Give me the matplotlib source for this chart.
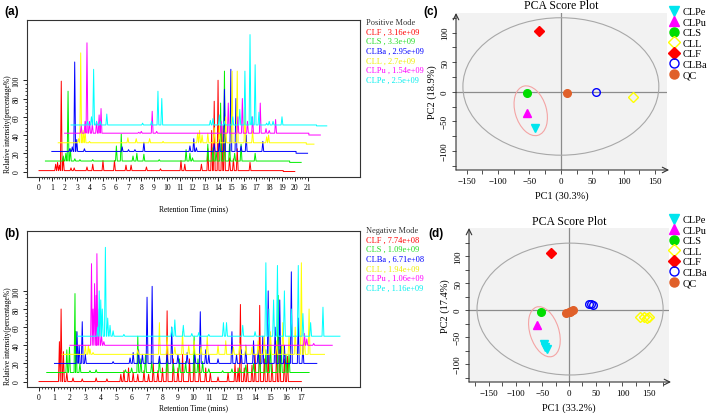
import numpy as np
import matplotlib
matplotlib.use('Agg')
import matplotlib.pyplot as plt
from matplotlib.patches import Ellipse
from matplotlib.ticker import FixedLocator
from matplotlib.lines import Line2D

SERIF = 'Liberation Serif'

# ---------------- chromatogram data (displayed retention time, relative intensity) ----------------
trace_colors = ['#FF0000', '#00EE00', '#0000FF', '#FFFF00', '#FF00FF', '#00FFFF']
text_colors = ['#FF0000', '#22DD22', '#0000FF', '#EEEE00', '#FF00FF', '#00EEEE']

# positive mode (a)
a_start = [0, 0.5, 1.0, 1.5, 2.0, 2.5]
a_end = [20.0, 20.5, 21.0, 21.5, 22.0, 22.5]
a_base_hi = [1, 11.5, 22, 31.5, 42, 51]
a_base_lo = [0, 10, 20, 30, 40, 50]
a_step = [19.1, 19.6, 20.1, 20.9, 21.1, 21.7]

a_clf_rt = [1.3, 1.45, 1.6, 1.74, 1.9, 2.5, 2.75, 3.75, 4.2, 5.0, 5.9, 6.8, 7.2, 8.4, 9.5, 11.1, 11.4,
            12.7, 13.2, 13.5, 13.7, 14.0, 14.3, 14.5, 14.9, 15.2, 15.5, 16.5]
a_clf_int = [8, 10, 7, 99, 15, 4, 4, 5, 8, 12, 12, 7, 7, 5, 3, 12, 8,
             8, 25, 45, 77, 100, 50, 55, 15, 14, 25, 10]
a_cls_rt = [1.9, 2.1, 2.27, 2.45, 2.8, 3.2, 4.2, 6.05, 6.43, 7.35, 7.65, 8.2, 9.4, 11.5, 11.8, 12.0,
            13.2, 13.6, 13.85, 14.2, 14.5, 14.9, 15.3, 15.8, 16.9]
a_cls_int = [17, 20, 88, 25, 14, 13, 13, 28, 41, 17, 20, 19, 13, 24, 20, 15,
             30, 26, 22, 75, 110, 30, 20, 30, 20]
a_clba_rt = [2.4, 2.6, 2.79, 2.95, 3.55, 6.5, 7.0, 7.5, 8.2, 11.8, 12.1, 12.3, 13.7, 14.1, 14.5,
             15.0, 15.4, 15.8, 16.2, 17.5]
a_clba_int = [25, 27, 120, 35, 25, 27, 24, 24, 32, 28, 36, 26, 30, 35, 90,
              112, 80, 28, 40, 33]
a_cll_rt = [3.1, 3.26, 3.45, 3.6, 3.95, 6.95, 7.6, 8.65, 9.7, 12.4, 12.55, 12.75, 13.2, 13.7, 14.1,
            14.6, 15.1, 15.5, 16.1, 16.7, 17.8, 17.95]
a_cll_int = [36, 130, 45, 45, 33, 37, 36, 36, 33, 42, 45, 40, 42, 48, 50,
             60, 110, 110, 70, 45, 38, 40]
a_clpu_rt = [3.3, 3.6, 3.75, 3.95, 4.17, 4.5, 4.7, 4.85, 7.8, 8.0, 8.85, 9.2, 14.25, 14.8, 15.55,
             15.9, 16.3, 16.7, 17.3, 17.75, 18.0, 18.5]
a_clpu_int = [50, 55, 141, 55, 52, 55, 62, 69, 43, 44, 66, 44, 55, 75, 60,
              80, 55, 60, 75, 47, 45, 57]
a_clpe_rt = [3.8, 4.1, 4.27, 4.5, 4.8, 5.3, 8.1, 8.8, 9.3, 9.6, 13.4, 13.6, 14.1, 14.5, 15.15,
             15.7, 16.1, 16.5, 16.65, 16.9, 17.2, 17.8, 18.0, 18.3, 19.0]
a_clpe_int = [55, 60, 112, 55, 55, 63, 53, 55, 88, 80, 56, 58, 62, 55, 60,
              68, 110, 150, 60, 117, 65, 53, 55, 55, 60]

# negative mode (b)
b_start = [0, 0.5, 1.0, 1.5, 2.0, 2.5]
b_end = [17.0, 17.5, 18.0, 18.5, 19.0, 19.5]
b_base = [0, 10, 20, 30, 40, 50]

b_clf_rt = [1.32, 1.43, 1.58, 1.8, 2.2, 2.8, 3.7, 4.4, 5.3, 5.5, 5.8, 6.1, 6.4, 6.8, 7.1, 7.4, 7.7,
            8.0, 8.3, 8.7, 9.0, 9.3, 9.75, 10.05, 10.4, 10.8, 11.1, 11.6, 12.25, 12.7, 12.9, 13.05,
            13.3, 13.5, 13.8, 14.0, 14.3, 14.6, 14.85, 15.1, 15.4, 15.6, 15.9, 16.1]
b_clf_int = [44, 80, 33, 10, 4, 3, 4, 3, 8, 12, 15, 10, 8, 12, 8, 20, 12,
             15, 78, 25, 15, 30, 25, 30, 20, 15, 10, 5, 10, 20, 15, 85,
             15, 20, 18, 30, 84, 25, 30, 20, 40, 35, 25, 28]
b_cls_rt = [1.8, 1.97, 2.33, 2.4, 2.65, 3.3, 3.7, 5.6, 6.0, 6.4, 6.6, 6.9, 7.3, 7.8, 8.3, 8.7, 9.1,
            9.5, 10.05, 10.3, 10.6, 11.0, 11.9, 12.5, 13.0, 13.4, 13.9, 14.3, 14.7, 15.0, 15.5,
            15.7, 16.0, 16.2]
b_cls_int = [35, 38, 97, 55, 20, 12, 13, 13, 15, 50, 25, 30, 22, 25, 28, 20, 25,
             22, 50, 25, 22, 14, 12, 14, 15, 18, 20, 30, 35, 45, 95,
             40, 30, 30]
b_clba_rt = [2.46, 2.6, 2.8, 3.0, 4.8, 5.9, 6.1, 6.45, 6.7, 7.0, 7.33, 7.8, 8.3, 8.6, 9.0, 9.6,
             10.1, 10.45, 10.8, 11.0, 11.6, 12.5, 12.8, 13.1, 13.4, 13.9, 14.2, 14.5, 14.85, 15.3,
             15.6, 15.9, 16.35, 16.8, 17.1]
b_clba_int = [55, 40, 66, 30, 22, 26, 32, 35, 30, 93, 105, 28, 30, 60, 30, 32,
              30, 77, 35, 30, 25, 55, 30, 35, 40, 45, 35, 50, 100, 60,
              90, 40, 121, 70, 40]
b_cll_rt = [3.0, 3.2, 3.3, 3.5, 6.4, 7.8, 8.3, 8.8, 9.3, 9.7, 10.05, 10.5, 10.9, 11.6, 12.1, 12.6,
            13.0, 13.4, 13.8, 14.2, 14.6, 15.0, 15.4, 15.8, 16.2, 16.6, 17.0, 17.2, 17.5]
b_cll_int = [40, 40, 36, 32, 35, 65, 50, 38, 55, 40, 45, 38, 50, 40, 45, 38,
             42, 40, 38, 45, 50, 55, 45, 65, 50, 60, 131, 50, 80]
b_clpu_rt = [3.4, 3.5, 3.6, 3.7, 3.75, 3.9, 4.05, 4.2, 17.2, 17.35, 17.8]
b_clpu_int = [130, 80, 108, 95, 141, 80, 50, 44, 53, 47, 42]
b_clpe_rt = [3.8, 3.9, 4.0, 4.1, 4.3, 4.45, 4.6, 4.8, 5.5, 8.6, 8.8, 9.35, 9.9, 10.35, 11.0, 11.95,
             12.15, 13.2, 14.0, 14.7, 14.9, 15.2, 15.45, 15.9, 16.35, 16.8, 17.1, 17.6, 18.4]
b_clpe_int = [60, 100, 90, 80, 148, 70, 62, 56, 52, 60, 68, 62, 53, 54, 52, 65,
              65, 62, 55, 131, 80, 90, 128, 100, 80, 128, 75, 65, 82]

pos_labels = ['CLF , 3.16e+09', 'CLS , 3.3e+09', 'CLBa , 2.95e+09',
              'CLL , 2.7e+09', 'CLPu , 1.54e+09', 'CLPe , 2.5e+09']
neg_labels = ['CLF , 7.74e+08', 'CLS , 1.09e+09', 'CLBa , 6.71e+08',
              'CLL , 1.94e+09', 'CLPu , 1.06e+09', 'CLPe , 1.16e+09']

# ---------------- PCA scores ----------------
groups = ['CLPe', 'CLPu', 'CLS', 'CLL', 'CLF', 'CLBa', 'QC']
grp_colors = ['#00E5EE', '#FF00FF', '#00DD00', '#FFFF00', '#FF0000', '#0000FF', '#E0602A']
grp_markers = ['v', '^', 'o', 'D', 'D', 'o', 'o']
grp_open = [False, False, False, True, False, True, False]

c_x = [[-41], [-54], [-54], [115], [-35], [56], [10]]
c_y = [[-61], [-36], [-2], [-9], [103], [0], [-2]]
d_x = [[-47, -44, -42], [-60], [-52], [132, 140, 146, 150], [-33], [38, 42, 44], [-5, 0, 4, 8, 2]]
d_y = [[-62, -68, -72], [-28], [-4], [-13, -12, -14, -12], [106], [11, 12, 9], [-6, -4, -2, 0, -3]]

fig = plt.figure(figsize=(7.09, 4.14), dpi=100)


def px_axes(l, t, r, b):
    return fig.add_axes([l / 709, 1 - b / 414, (r - l) / 709, (b - t) / 414])


def peak_line(start, end, base_hi, base_lo, step, rt, inten, w=0.07):
    order = np.argsort(rt)
    rt = np.asarray(rt, float)[order]
    inten = np.asarray(inten, float)[order]
    xs, ys = [start], [base_hi]
    n = len(rt)
    for i in range(n):
        t = rt[i]
        left = t - w if i == 0 else max(t - w, (rt[i - 1] + t) / 2)
        right = t + w if i == n - 1 else min(t + w, (t + rt[i + 1]) / 2)
        xs += [left, t, right]
        ys += [base_hi, inten[i], base_hi]
    if step is not None:
        xs += [step, step]
        ys += [base_hi, base_lo]
    xs.append(end)
    ys.append(base_lo)
    return xs, ys


def chrom_axes(ax, xlim, xmax_tick, xlabel_y, label_y):
    ax.set_xlim(*xlim)
    ax.set_ylim(-6, 166)
    ax.xaxis.set_major_locator(FixedLocator(range(0, xmax_tick + 1)))
    ax.xaxis.set_minor_locator(FixedLocator(np.arange(0, xmax_tick + 0.01, 0.2)))
    ax.yaxis.set_major_locator(FixedLocator(range(0, 101, 20)))
    ax.yaxis.set_minor_locator(FixedLocator(range(0, 101, 4)))
    ax.tick_params(which='major', length=3, width=0.6, direction='out', labelsize=5.5, pad=1.5)
    ax.tick_params(which='minor', length=1.5, width=0.5, direction='out')
    ax.tick_params(axis='y', labelrotation=90)
    for lab in ax.get_yticklabels():
        lab.set_va('center')
        lab.set_family(SERIF)
    for lab in ax.get_xticklabels():
        lab.set_family(SERIF)
    for s in ax.spines.values():
        s.set_linewidth(0.8)
        s.set_color('#333333')
    ax.set_ylabel('Relative intensity(percentage%)', family=SERIF, fontsize=5.5)
    ax.yaxis.set_label_coords(-0.045, label_y)
    fig.text(ax.get_position().x0 + ax.get_position().width / 2, 1 - xlabel_y / 414,
             'Retention Time (mins)', family=SERIF, fontsize=5.5, ha='center', va='center')


# ---- (a) positive mode ----
ax_a = px_axes(27, 21, 360, 178)
a_rt = [a_clf_rt, a_cls_rt, a_clba_rt, a_cll_rt, a_clpu_rt, a_clpe_rt]
a_int = [a_clf_int, a_cls_int, a_clba_int, a_cll_int, a_clpu_int, a_clpe_int]
for i in range(6):
    xs, ys = peak_line(a_start[i], a_end[i], a_base_hi[i], a_base_lo[i], a_step[i], a_rt[i], a_int[i])
    ax_a.plot(xs, ys, color=trace_colors[i], lw=0.7)
chrom_axes(ax_a, (-0.94, 25.1), 21, 209, 0.34)

# ---- (b) negative mode ----
ax_b = px_axes(27, 232, 360, 388)
b_rt = [b_clf_rt, b_cls_rt, b_clba_rt, b_cll_rt, b_clpu_rt, b_clpe_rt]
b_int = [b_clf_int, b_cls_int, b_clba_int, b_cll_int, b_clpu_int, b_clpe_int]
for i in range(6):
    xs, ys = peak_line(b_start[i], b_end[i], b_base[i], b_base[i], None, b_rt[i], b_int[i], w=0.06)
    ax_b.plot(xs, ys, color=trace_colors[i], lw=0.7)
chrom_axes(ax_b, (-0.78, 20.8), 17, 408, 0.33)

# mode legends
for title, labels, y0 in [('Positive Mode', pos_labels, 23), ('Negative Mode', neg_labels, 231)]:
    fig.text(366 / 709, 1 - y0 / 414, title, family=SERIF, fontsize=6, color='#333333', va='center')
    for i, lab in enumerate(labels):
        fig.text(366 / 709, 1 - (y0 + 9.6 * (i + 1)) / 414, lab, family=SERIF, fontsize=6,
                 color=text_colors[i], va='center')


# ---- PCA panels ----
def pca_axes(ax, xs, ys, xlim, ylim, big_ell, pink_ell, pc1, pc2, legend_top, title_y):
    ax.set_facecolor('#F2F2F2')
    ax.set_xlim(*xlim)
    ax.set_ylim(*ylim)
    for s in ax.spines.values():
        s.set_visible(False)
    ax.axhline(0, color='#8C8C8C', lw=0.9, zorder=1)
    ax.axvline(0, color='#8C8C8C', lw=0.9, zorder=1)
    cx, cy, w, h = big_ell
    ax.add_patch(Ellipse((cx, cy), w, h, fill=False, ec='#A8A8A8', lw=0.8, zorder=1))
    cx, cy, w, h, ang = pink_ell
    ax.add_patch(Ellipse((cx, cy), w, h, angle=ang, fill=False, ec='#F4A4A4', lw=0.8, zorder=1))
    for g in range(len(groups)):
        fc = 'none' if grp_open[g] else grp_colors[g]
        ax.plot(xs[g], ys[g], ls='', marker=grp_markers[g], ms=5.5, mfc=fc, mec=grp_colors[g],
                mew=1.0, zorder=3)
    ax.xaxis.set_major_locator(FixedLocator(range(-150, 151, 50)))
    ax.xaxis.set_minor_locator(FixedLocator(range(-175, 176, 25)))
    ax.yaxis.set_major_locator(FixedLocator(range(-100, 101, 50)))
    ax.yaxis.set_minor_locator(FixedLocator(range(-125, 126, 25)))
    ax.tick_params(which='both', length=3, width=0.6, direction='out', color='#333333',
                   labelsize=6.5, pad=2)
    ax.tick_params(axis='y', labelrotation=90)
    for lab in ax.get_yticklabels():
        lab.set_va('center')
        lab.set_family(SERIF)
    for lab in ax.get_xticklabels():
        lab.set_family(SERIF)
    ax.annotate('', xy=(0, 1.0), xytext=(0, 0), xycoords='axes fraction',
                arrowprops=dict(arrowstyle='->', lw=0.8, color='#333333', shrinkA=0, shrinkB=0))
    ax.annotate('', xy=(1.01, 0), xytext=(0, 0), xycoords='axes fraction',
                arrowprops=dict(arrowstyle='->', lw=0.8, color='#333333', shrinkA=0, shrinkB=0))
    pos = ax.get_position()
    fig.text(pos.x0 + pos.width / 2, 1 - title_y / 414, 'PCA Score Plot', family=SERIF,
             fontsize=8.5, ha='center', va='center')
    ax.set_xlabel(pc1, family=SERIF, fontsize=7.5, labelpad=4)
    ax.set_ylabel(pc2, family=SERIF, fontsize=7.5, labelpad=3)
    handles = []
    for g in range(len(groups)):
        fc = 'none' if grp_open[g] else grp_colors[g]
        handles.append(Line2D([], [], ls='', marker=grp_markers[g], ms=6.5, mfc=fc,
                              mec=grp_colors[g], mew=1.0))
    fig.legend(handles, groups, loc='upper left', bbox_to_anchor=(670 / 709, 1 - legend_top / 414),
               frameon=False, prop={'family': SERIF, 'size': 7.5}, labelspacing=0.12,
               handlelength=0.8, handletextpad=0.4, borderpad=0, borderaxespad=0)


ax_c = px_axes(456, 14, 667, 171)
pca_axes(ax_c, c_x, c_y, (-167, 169), (-132, 133), (0, 9, 312, 232), (-48, -32, 50, 86, 15),
         'PC1 (30.3%)', 'PC2 (18.9%)', 8, 6)

ax_d = px_axes(469, 229, 669, 383)
pca_axes(ax_d, d_x, d_y, (-187, 187), (-133, 152), (2, 2, 348, 244), (-46, -40, 54, 96, 18),
         'PC1 (33.2%)', 'PC2 (17.4%)', 216, 222)

# panel letters
for lab, x, y in [('(a)', 4, 12), ('(b)', 4, 234), ('(c)', 423, 12), ('(d)', 428, 234)]:
    fig.text(x / 709, 1 - y / 414, lab, family='Liberation Sans', fontweight='bold', fontsize=8.5,
             va='center')

fig.savefig('out.png', dpi=100)
